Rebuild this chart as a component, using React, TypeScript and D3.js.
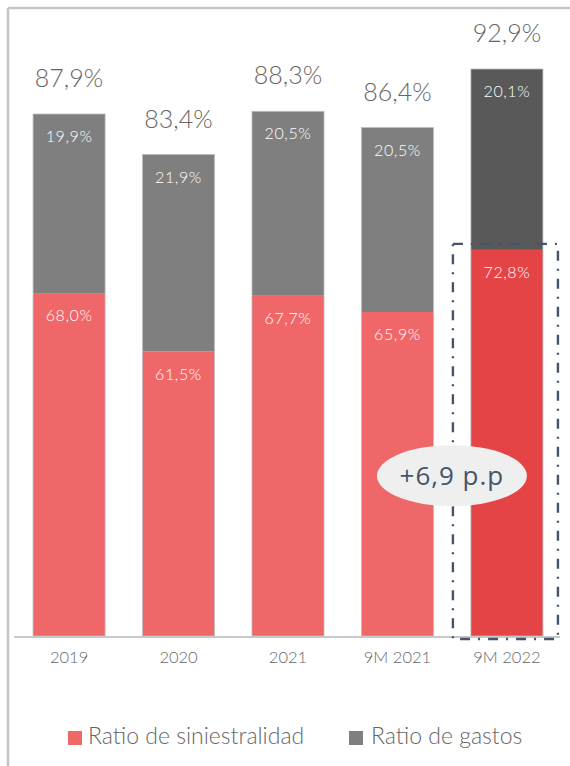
import React from "react";
import * as d3 from "d3";

const categories = ["2019", "2020", "2021", "9M 2021", "9M 2022"];
const siniestralidad = [68.0, 61.5, 67.7, 65.9, 72.8];
const gastos = [19.9, 21.9, 20.5, 20.5, 20.1];
const totals = [87.9, 83.4, 88.3, 86.4, 92.9];
const seriesNames = ["Ratio de siniestralidad", "Ratio de gastos"];
const highlightCategory = "9M 2022";
const deltaLabel = "+6,9 p.p";
const deltaAnchorValue = 47.7;

const W = 570;
const H = 766;
const baseY = 636;

const COLORS = {
  red: "#EF6769",
  redHi: "#E54446",
  gray: "#7F7F7F",
  grayHi: "#595959",
  text: "#666666",
  frame: "#C4C4C4",
  axis: "#C8C8C8",
  annot: "#44546A",
};

const FONT = "Lato, 'Open Sans', sans-serif";

const fmt = (v: number) => d3.format(".1f")(v).replace(".", ",") + "%";

export default function App() {
  const x = d3
    .scaleBand<string>()
    .domain(categories)
    .range([15, 561])
    .paddingInner(0.342)
    .paddingOuter(0.165);
  const y = d3.scaleLinear().domain([29.9, 100]).range([baseY, 5.1]);

  const rows = categories.map((c, i) => ({
    cat: c,
    sin: siniestralidad[i],
    gas: gastos[i],
  }));
  const stack = d3.stack<any>().keys(["sin", "gas"])(rows);
  const floor = y.domain()[0];

  const bw = x.bandwidth();
  const hx = x(highlightCategory)!;
  const boxLeft = hx - 18;
  const boxRight = hx + bw + 15;
  const boxTop = y(siniestralidad[categories.indexOf(highlightCategory)]) - 6;
  const boxBottom = baseY + 3;

  return (
    <svg
      width={W}
      height={H}
      style={{ position: "absolute", left: 0, top: 0, background: "#fff" }}
    >
      {/* frame */}
      <line x1={8} y1={8} x2={W} y2={8} stroke={COLORS.frame} strokeWidth={2.5} />
      <line x1={8} y1={8} x2={8} y2={H} stroke={COLORS.frame} strokeWidth={2.5} />

      {/* bars */}
      {stack.map((s, si) => (
        <g key={si}>
          {s.map((d: any, i: number) => {
            const hi = categories[i] === highlightCategory;
            const fill =
              si === 0 ? (hi ? COLORS.redHi : COLORS.red) : hi ? COLORS.grayHi : COLORS.gray;
            const y0 = Math.max(d[0], floor);
            return (
              <rect
                key={i}
                x={x(categories[i])}
                y={y(d[1])}
                width={bw}
                height={y(y0) - y(d[1])}
                fill={fill}
              />
            );
          })}
        </g>
      ))}
      {/* bar outlines */}
      {rows.map((r, i) => (
        <rect
          key={"o" + i}
          x={x(r.cat)}
          y={y(r.sin + r.gas)}
          width={bw}
          height={baseY - y(r.sin + r.gas)}
          fill="none"
          stroke="#BDBDBD"
          strokeWidth={0.8}
        />
      ))}

      {/* segment labels */}
      {stack.map((s, si) =>
        s.map((d: any, i: number) => (
          <text
            key={"l" + si + i}
            x={x(categories[i])! + bw / 2}
            y={y(d[1]) + 28}
            textAnchor="middle"
            fill="#fff"
            fontFamily={FONT}
            fontWeight={300}
            fontSize={16}
            letterSpacing={0.6}
          >
            {fmt(si === 0 ? siniestralidad[i] : gastos[i])}
          </text>
        ))
      )}

      {/* totals */}
      {totals.map((t, i) => (
        <text
          key={"t" + i}
          x={x(categories[i])! + bw / 2}
          y={y(siniestralidad[i] + gastos[i]) - 27}
          textAnchor="middle"
          fill={COLORS.text}
          fontFamily={FONT}
          fontWeight={300}
          fontSize={25}
        >
          {fmt(t)}
        </text>
      ))}

      {/* axis */}
      <line x1={14} y1={baseY + 1} x2={560} y2={baseY + 1} stroke={COLORS.axis} strokeWidth={2} />
      {categories.map((c) => (
        <text
          key={"a" + c}
          x={x(c)! + bw / 2}
          y={663}
          textAnchor="middle"
          fill={COLORS.text}
          fontFamily={FONT}
          fontWeight={300}
          fontSize={16.5}
        >
          {c}
        </text>
      ))}

      {/* highlight box */}
      <rect
        x={boxLeft}
        y={boxTop}
        width={boxRight - boxLeft}
        height={boxBottom - boxTop}
        fill="none"
        stroke={COLORS.annot}
        strokeWidth={2.4}
        strokeDasharray="10 8 2 8"
      />
      <ellipse cx={boxLeft - 1} cy={y(deltaAnchorValue)} rx={75} ry={30.5} fill="#EFEFEF" />
      <text
        x={boxLeft - 1}
        y={y(deltaAnchorValue) + 9}
        textAnchor="middle"
        fill={COLORS.annot}
        fontFamily="'Open Sans', sans-serif"
        fontSize={26}
        letterSpacing={1}
      >
        {deltaLabel}
      </text>

      {/* legend */}
      <g>
        <rect x={68} y={731} width={14} height={14} fill={COLORS.red} />
        <text x={88} y={744} fill={COLORS.text} fontFamily={FONT} fontWeight={300} fontSize={23}>
          {seriesNames[0]}
        </text>
        <rect x={349} y={731} width={14} height={14} fill={COLORS.gray} />
        <text x={371} y={744} fill={COLORS.text} fontFamily={FONT} fontWeight={300} fontSize={23}>
          {seriesNames[1]}
        </text>
      </g>
    </svg>
  );
}
